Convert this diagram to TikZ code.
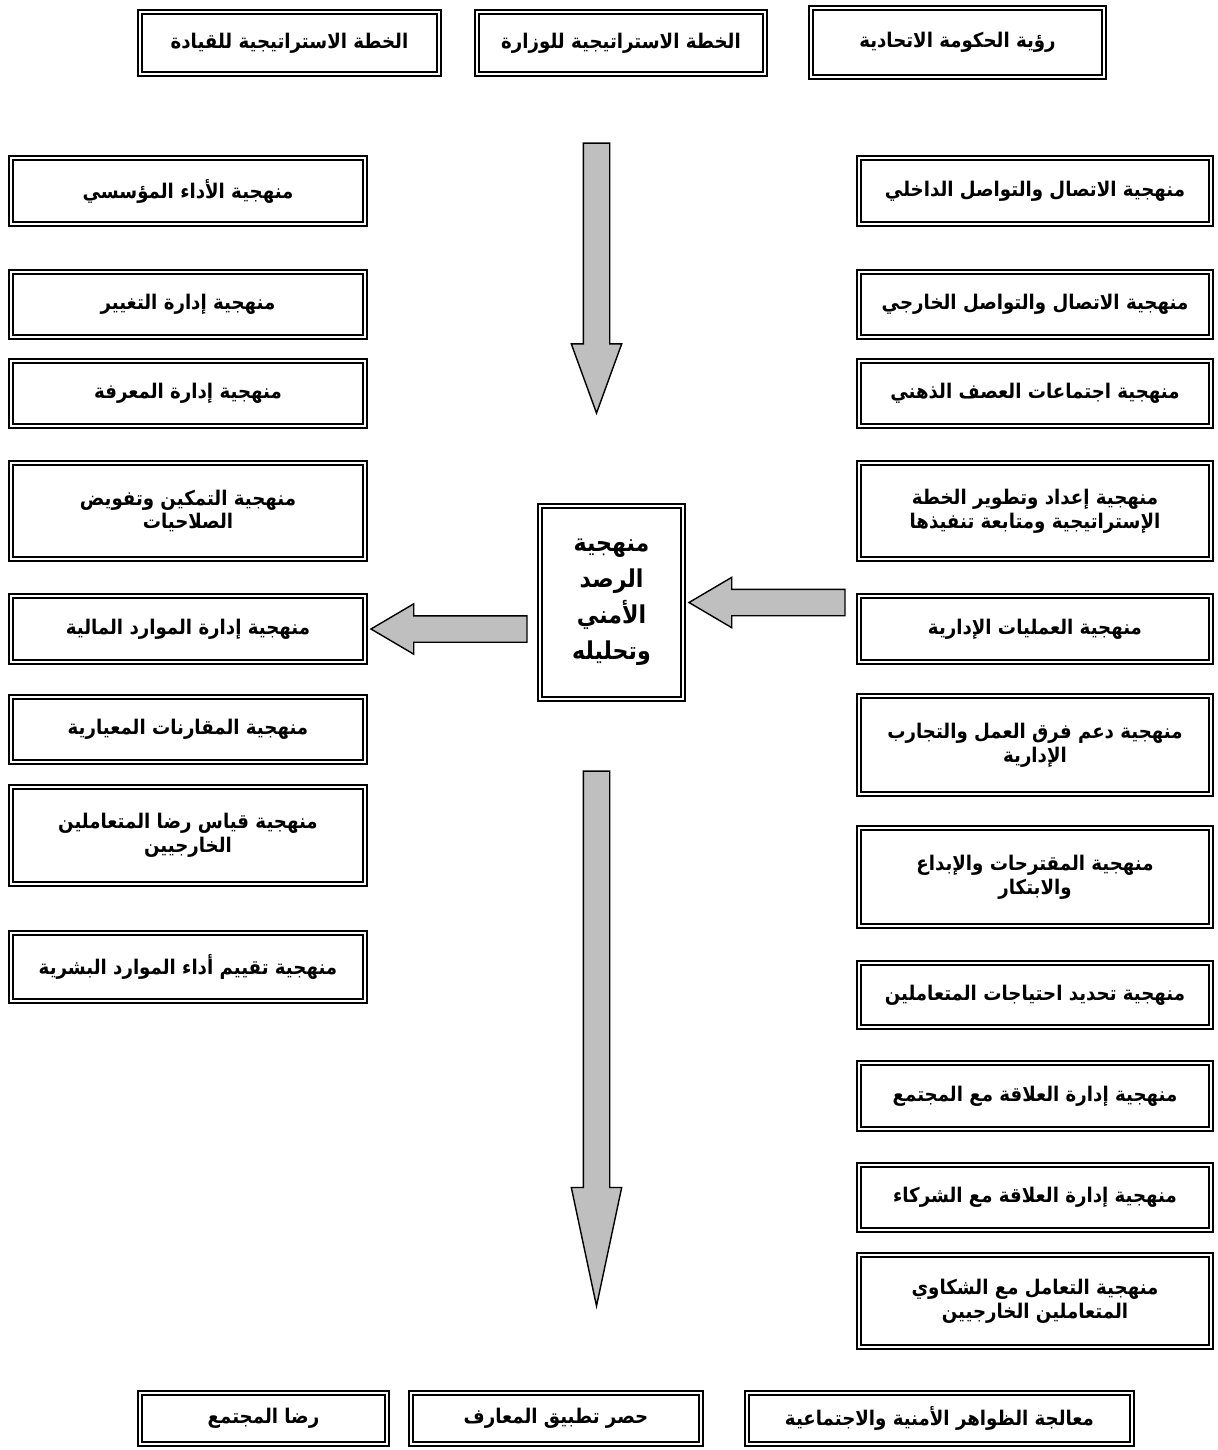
\documentclass[tikz,border=0pt]{standalone}
\usepackage{fontspec}
\usepackage{tikz}
\usetikzlibrary{positioning, shapes.arrows}
\newfontfamily\arabicfont[Script=Arabic, FakeStretch=0.9]{DejaVu Sans}
\TeXXeTstate=1
\def\unitpx{0.02cm}
\newcommand{\artext}[1]{\beginR #1\endR}
\tikzstyle{methodbox}=[rectangle, draw=black, double=white, line width=1.25pt,
double distance=1.2pt, fill=white, align=center, inner sep=2pt,
font=\arabicfont\bfseries\fontsize{11.5}{13.5}\selectfont]
\tikzstyle{leftcol}=[methodbox, minimum width=354*\unitpx]
\tikzstyle{rightcol}=[methodbox, minimum width=352*\unitpx]
\tikzstyle{blockarrow}=[single arrow, draw=black, fill=black!25, line width=0.8pt,
inner xsep=0pt, inner ysep=0.25cm, minimum width=0.98cm, single arrow head extend=0.24cm]

\begin{document}
\begin{tikzpicture}[x=0.02cm, y=-0.02cm]
        \useasboundingbox (0,0) rectangle (1217,1450);

        % top row
        \node[methodbox, minimum width=293*\unitpx, minimum height=69*\unitpx] (tgov) at (957.5,42.5) {\artext{رؤية الحكومة الاتحادية}};
        \node[methodbox, minimum width=288*\unitpx, minimum height=62*\unitpx] (tmin) at (621,43) {\artext{الخطة الاستراتيجية للوزارة}};
        \node[methodbox, minimum width=299*\unitpx, minimum height=62*\unitpx] (tlead) at (289.5,43) {\artext{الخطة الاستراتيجية للقيادة}};

        % right column
        \node[rightcol, minimum height=66*\unitpx] (r1) at (1035,191) {\artext{منهجية الاتصال والتواصل الداخلي}};
        \node[rightcol, minimum height=65*\unitpx] (r2) at (1035,304.5) {\artext{منهجية الاتصال والتواصل الخارجي}};
        \node[rightcol, minimum height=65*\unitpx] (r3) at (1035,393.5) {\artext{منهجية اجتماعات العصف الذهني}};
        \node[rightcol, minimum height=96*\unitpx] (r4) at (1035,511) {\artext{منهجية إعداد وتطوير الخطة}\\\artext{الإستراتيجية ومتابعة تنفيذها}};
        \node[rightcol, minimum height=66*\unitpx] (r5) at (1035,629) {\artext{منهجية العمليات الإدارية}};
        \node[rightcol, minimum height=98*\unitpx] (r6) at (1035,745) {\artext{منهجية دعم فرق العمل والتجارب}\\\artext{الإدارية}};
        \node[rightcol, minimum height=98*\unitpx] (r7) at (1035,877) {\artext{منهجية المقترحات والإبداع}\\\artext{والابتكار}};
        \node[rightcol, minimum height=64*\unitpx] (r8) at (1035,995) {\artext{منهجية تحديد احتياجات المتعاملين}};
        \node[rightcol, minimum height=66*\unitpx] (r9) at (1035,1096) {\artext{منهجية إدارة العلاقة مع المجتمع}};
        \node[rightcol, minimum height=65*\unitpx] (r10) at (1035,1197.5) {\artext{منهجية إدارة العلاقة مع الشركاء}};
        \node[rightcol, minimum height=92*\unitpx] (r11) at (1035,1301) {\artext{منهجية التعامل مع الشكاوي}\\\artext{المتعاملين الخارجيين}};

        % left column
        \node[leftcol, minimum height=66*\unitpx] (l1) at (188,191) {\artext{منهجية الأداء المؤسسي}};
        \node[leftcol, minimum height=65*\unitpx] (l2) at (188,304.5) {\artext{منهجية إدارة التغيير}};
        \node[leftcol, minimum height=65*\unitpx] (l3) at (188,393.5) {\artext{منهجية إدارة المعرفة}};
        \node[leftcol, minimum height=96*\unitpx] (l4) at (188,511) {\artext{منهجية التمكين وتفويض}\\\artext{الصلاحيات}};
        \node[leftcol, minimum height=66*\unitpx] (l5) at (188,629) {\artext{منهجية إدارة الموارد المالية}};
        \node[leftcol, minimum height=65*\unitpx] (l6) at (188,729.5) {\artext{منهجية المقارنات المعيارية}};
        \node[leftcol, minimum height=97*\unitpx] (l7) at (188,835.5) {\artext{منهجية قياس رضا المتعاملين}\\\artext{الخارجيين}};
        \node[leftcol, minimum height=68*\unitpx] (l8) at (188,967) {\artext{منهجية تقييم أداء الموارد البشرية}};

        % centre
        \node[methodbox, minimum width=143*\unitpx, minimum height=193*\unitpx,
            font=\arabicfont\bfseries\fontsize{14}{20.5}\selectfont] (centre) at (611.5,602.5)
            {\artext{منهجية}\\\artext{الرصد}\\\artext{الأمني}\\\artext{وتحليله}};

        % bottom row
        \node[methodbox, minimum width=385*\unitpx, minimum height=51*\unitpx] (bphen) at (939.5,1418.5) {\artext{معالجة الظواهر الأمنية والاجتماعية}};
        \node[methodbox, minimum width=290*\unitpx, minimum height=51*\unitpx] (bknow) at (556,1418.5) {\artext{حصر تطبيق المعارف}};
        \node[methodbox, minimum width=247*\unitpx, minimum height=51*\unitpx] (bsoc) at (263.5,1418.5) {\artext{رضا المجتمع}};

        % block arrows
        \node[blockarrow, rotate=-90, minimum height=5.4cm, single arrow tip angle=40] (flowtop) at (596.5,260) {};
        \node[blockarrow, rotate=-90, minimum height=10.7cm, single arrow tip angle=24] (flowbottom) at (596.5,1007.5) {};
        \node[blockarrow, rotate=180, minimum height=3.12cm, single arrow tip angle=61, anchor=tip] (flowright) at ([xshift=2pt]centre.east) {};
        \node[blockarrow, rotate=180, minimum height=3.12cm, single arrow tip angle=61, anchor=tip] (flowleft) at ([xshift=2pt]l5.east) {};
    \end{tikzpicture}
\end{document}
